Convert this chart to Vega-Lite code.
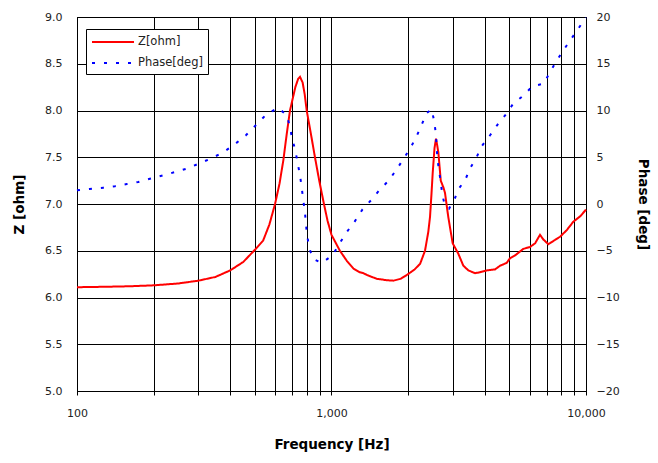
{
  "$schema": "https://vega.github.io/schema/vega-lite/v6.json",
  "width": 509,
  "height": 374,
  "autosize": {"type": "none"},
  "padding": {"left": 77, "top": 17, "right": 72, "bottom": 72},
  "background": "white",
  "data": {
    "values": [
      {"f": 100, "v": 6.11, "s": "Z[ohm]"},
      {"f": 130, "v": 6.115, "s": "Z[ohm]"},
      {"f": 160, "v": 6.12, "s": "Z[ohm]"},
      {"f": 200, "v": 6.13, "s": "Z[ohm]"},
      {"f": 250, "v": 6.15, "s": "Z[ohm]"},
      {"f": 300, "v": 6.18, "s": "Z[ohm]"},
      {"f": 350, "v": 6.22, "s": "Z[ohm]"},
      {"f": 400, "v": 6.29, "s": "Z[ohm]"},
      {"f": 450, "v": 6.38, "s": "Z[ohm]"},
      {"f": 500, "v": 6.51, "s": "Z[ohm]"},
      {"f": 539, "v": 6.61, "s": "Z[ohm]"},
      {"f": 570, "v": 6.78, "s": "Z[ohm]"},
      {"f": 600, "v": 7.0, "s": "Z[ohm]"},
      {"f": 625, "v": 7.22, "s": "Z[ohm]"},
      {"f": 647, "v": 7.47, "s": "Z[ohm]"},
      {"f": 667, "v": 7.75, "s": "Z[ohm]"},
      {"f": 687, "v": 8.0, "s": "Z[ohm]"},
      {"f": 721, "v": 8.25, "s": "Z[ohm]"},
      {"f": 740, "v": 8.34, "s": "Z[ohm]"},
      {"f": 752, "v": 8.36, "s": "Z[ohm]"},
      {"f": 770, "v": 8.3, "s": "Z[ohm]"},
      {"f": 785, "v": 8.17, "s": "Z[ohm]"},
      {"f": 799, "v": 8.0, "s": "Z[ohm]"},
      {"f": 830, "v": 7.75, "s": "Z[ohm]"},
      {"f": 861, "v": 7.5, "s": "Z[ohm]"},
      {"f": 895, "v": 7.25, "s": "Z[ohm]"},
      {"f": 934, "v": 7.0, "s": "Z[ohm]"},
      {"f": 965, "v": 6.82, "s": "Z[ohm]"},
      {"f": 1000, "v": 6.67, "s": "Z[ohm]"},
      {"f": 1079, "v": 6.5, "s": "Z[ohm]"},
      {"f": 1150, "v": 6.39, "s": "Z[ohm]"},
      {"f": 1219, "v": 6.31, "s": "Z[ohm]"},
      {"f": 1290, "v": 6.27, "s": "Z[ohm]"},
      {"f": 1335, "v": 6.26, "s": "Z[ohm]"},
      {"f": 1380, "v": 6.24, "s": "Z[ohm]"},
      {"f": 1506, "v": 6.2, "s": "Z[ohm]"},
      {"f": 1650, "v": 6.185, "s": "Z[ohm]"},
      {"f": 1750, "v": 6.18, "s": "Z[ohm]"},
      {"f": 1870, "v": 6.2, "s": "Z[ohm]"},
      {"f": 2000, "v": 6.25, "s": "Z[ohm]"},
      {"f": 2120, "v": 6.3, "s": "Z[ohm]"},
      {"f": 2229, "v": 6.36, "s": "Z[ohm]"},
      {"f": 2330, "v": 6.5, "s": "Z[ohm]"},
      {"f": 2400, "v": 6.7, "s": "Z[ohm]"},
      {"f": 2438, "v": 6.86, "s": "Z[ohm]"},
      {"f": 2470, "v": 7.1, "s": "Z[ohm]"},
      {"f": 2498, "v": 7.33, "s": "Z[ohm]"},
      {"f": 2540, "v": 7.6, "s": "Z[ohm]"},
      {"f": 2574, "v": 7.7, "s": "Z[ohm]"},
      {"f": 2605, "v": 7.62, "s": "Z[ohm]"},
      {"f": 2630, "v": 7.55, "s": "Z[ohm]"},
      {"f": 2687, "v": 7.25, "s": "Z[ohm]"},
      {"f": 2750, "v": 7.18, "s": "Z[ohm]"},
      {"f": 2792, "v": 7.12, "s": "Z[ohm]"},
      {"f": 2877, "v": 6.86, "s": "Z[ohm]"},
      {"f": 2993, "v": 6.58, "s": "Z[ohm]"},
      {"f": 3148, "v": 6.47, "s": "Z[ohm]"},
      {"f": 3296, "v": 6.34, "s": "Z[ohm]"},
      {"f": 3450, "v": 6.29, "s": "Z[ohm]"},
      {"f": 3664, "v": 6.26, "s": "Z[ohm]"},
      {"f": 3828, "v": 6.27, "s": "Z[ohm]"},
      {"f": 4074, "v": 6.29, "s": "Z[ohm]"},
      {"f": 4389, "v": 6.3, "s": "Z[ohm]"},
      {"f": 4596, "v": 6.34, "s": "Z[ohm]"},
      {"f": 4877, "v": 6.37, "s": "Z[ohm]"},
      {"f": 5028, "v": 6.42, "s": "Z[ohm]"},
      {"f": 5262, "v": 6.45, "s": "Z[ohm]"},
      {"f": 5673, "v": 6.52, "s": "Z[ohm]"},
      {"f": 6026, "v": 6.54, "s": "Z[ohm]"},
      {"f": 6310, "v": 6.58, "s": "Z[ohm]"},
      {"f": 6596, "v": 6.67, "s": "Z[ohm]"},
      {"f": 6800, "v": 6.62, "s": "Z[ohm]"},
      {"f": 7115, "v": 6.57, "s": "Z[ohm]"},
      {"f": 7500, "v": 6.61, "s": "Z[ohm]"},
      {"f": 7907, "v": 6.65, "s": "Z[ohm]"},
      {"f": 8400, "v": 6.72, "s": "Z[ohm]"},
      {"f": 8913, "v": 6.81, "s": "Z[ohm]"},
      {"f": 9500, "v": 6.87, "s": "Z[ohm]"},
      {"f": 10000, "v": 6.94, "s": "Z[ohm]"},
      {"f": 100, "v": 1.47, "s": "Phase[deg]"},
      {"f": 112, "v": 1.6, "s": "Phase[deg]"},
      {"f": 127, "v": 1.75, "s": "Phase[deg]"},
      {"f": 141, "v": 1.9, "s": "Phase[deg]"},
      {"f": 157, "v": 2.14, "s": "Phase[deg]"},
      {"f": 174, "v": 2.35, "s": "Phase[deg]"},
      {"f": 195, "v": 2.72, "s": "Phase[deg]"},
      {"f": 218, "v": 3.07, "s": "Phase[deg]"},
      {"f": 243, "v": 3.42, "s": "Phase[deg]"},
      {"f": 270, "v": 3.78, "s": "Phase[deg]"},
      {"f": 301, "v": 4.32, "s": "Phase[deg]"},
      {"f": 335, "v": 4.85, "s": "Phase[deg]"},
      {"f": 374, "v": 5.5, "s": "Phase[deg]"},
      {"f": 415, "v": 6.35, "s": "Phase[deg]"},
      {"f": 461, "v": 7.35, "s": "Phase[deg]"},
      {"f": 508, "v": 8.52, "s": "Phase[deg]"},
      {"f": 556, "v": 9.6, "s": "Phase[deg]"},
      {"f": 616, "v": 10.3, "s": "Phase[deg]"},
      {"f": 667, "v": 9.49, "s": "Phase[deg]"},
      {"f": 687, "v": 8.24, "s": "Phase[deg]"},
      {"f": 700, "v": 7.0, "s": "Phase[deg]"},
      {"f": 721, "v": 5.74, "s": "Phase[deg]"},
      {"f": 737, "v": 4.32, "s": "Phase[deg]"},
      {"f": 752, "v": 3.07, "s": "Phase[deg]"},
      {"f": 763, "v": 1.82, "s": "Phase[deg]"},
      {"f": 775, "v": 0.4, "s": "Phase[deg]"},
      {"f": 787, "v": -1.0, "s": "Phase[deg]"},
      {"f": 799, "v": -3.0, "s": "Phase[deg]"},
      {"f": 816, "v": -4.6, "s": "Phase[deg]"},
      {"f": 844, "v": -5.84, "s": "Phase[deg]"},
      {"f": 914, "v": -6.3, "s": "Phase[deg]"},
      {"f": 1009, "v": -5.5, "s": "Phase[deg]"},
      {"f": 1074, "v": -4.24, "s": "Phase[deg]"},
      {"f": 1148, "v": -3.0, "s": "Phase[deg]"},
      {"f": 1230, "v": -1.93, "s": "Phase[deg]"},
      {"f": 1322, "v": -0.6, "s": "Phase[deg]"},
      {"f": 1438, "v": 0.47, "s": "Phase[deg]"},
      {"f": 1541, "v": 1.47, "s": "Phase[deg]"},
      {"f": 1682, "v": 2.54, "s": "Phase[deg]"},
      {"f": 1803, "v": 3.71, "s": "Phase[deg]"},
      {"f": 1914, "v": 4.78, "s": "Phase[deg]"},
      {"f": 2047, "v": 6.03, "s": "Phase[deg]"},
      {"f": 2162, "v": 7.27, "s": "Phase[deg]"},
      {"f": 2262, "v": 8.49, "s": "Phase[deg]"},
      {"f": 2366, "v": 9.73, "s": "Phase[deg]"},
      {"f": 2476, "v": 10.13, "s": "Phase[deg]"},
      {"f": 2535, "v": 8.77, "s": "Phase[deg]"},
      {"f": 2570, "v": 7.53, "s": "Phase[deg]"},
      {"f": 2607, "v": 4.86, "s": "Phase[deg]"},
      {"f": 2645, "v": 3.6, "s": "Phase[deg]"},
      {"f": 2687, "v": 2.35, "s": "Phase[deg]"},
      {"f": 2724, "v": 1.04, "s": "Phase[deg]"},
      {"f": 2792, "v": -0.24, "s": "Phase[deg]"},
      {"f": 2897, "v": -0.49, "s": "Phase[deg]"},
      {"f": 3057, "v": 0.64, "s": "Phase[deg]"},
      {"f": 3148, "v": 1.57, "s": "Phase[deg]"},
      {"f": 3350, "v": 2.54, "s": "Phase[deg]"},
      {"f": 3500, "v": 3.79, "s": "Phase[deg]"},
      {"f": 3720, "v": 5.03, "s": "Phase[deg]"},
      {"f": 3890, "v": 6.17, "s": "Phase[deg]"},
      {"f": 4197, "v": 7.35, "s": "Phase[deg]"},
      {"f": 4500, "v": 8.52, "s": "Phase[deg]"},
      {"f": 4848, "v": 9.6, "s": "Phase[deg]"},
      {"f": 5180, "v": 10.74, "s": "Phase[deg]"},
      {"f": 5700, "v": 11.63, "s": "Phase[deg]"},
      {"f": 6150, "v": 12.59, "s": "Phase[deg]"},
      {"f": 6840, "v": 12.88, "s": "Phase[deg]"},
      {"f": 7180, "v": 14.0, "s": "Phase[deg]"},
      {"f": 7620, "v": 15.19, "s": "Phase[deg]"},
      {"f": 8150, "v": 16.44, "s": "Phase[deg]"},
      {"f": 8710, "v": 17.58, "s": "Phase[deg]"},
      {"f": 9330, "v": 18.76, "s": "Phase[deg]"},
      {"f": 10000, "v": 19.94, "s": "Phase[deg]"}
    ]
  },
  "encoding": {
    "x": {
      "field": "f",
      "type": "quantitative",
      "scale": {"type": "log", "domain": [100, 10000], "nice": false},
      "title": "Frequency [Hz]",
      "axis": {
        "values": [100, 200, 300, 400, 500, 600, 700, 800, 900, 1000, 2000, 3000, 4000, 5000, 6000, 7000, 8000, 9000, 10000],
        "labelExpr": "datum.value == 100 || datum.value == 1000 || datum.value == 10000 ? format(datum.value, ',') : ''",
        "labelFlush": false,
        "labelOverlap": false,
        "grid": true,
        "tickSize": 4,
        "labelPadding": 12,
        "titlePadding": 19
      }
    },
    "color": {
      "field": "s",
      "type": "nominal",
      "scale": {"domain": ["Z[ohm]", "Phase[deg]"], "range": ["#ff0000", "#0000ff"]},
      "legend": {
        "title": null,
        "orient": "none",
        "legendX": 9,
        "legendY": 12,
        "strokeColor": "black",
        "fillColor": "white",
        "padding": 5,
        "symbolType": "M-1,0H5",
        "symbolSize": 196,
        "symbolStrokeWidth": 2,
        "labelFontSize": 11.5,
        "labelOffset": 31,
        "rowPadding": 7
      }
    },
    "strokeDash": {
      "field": "s",
      "type": "nominal",
      "scale": {"domain": ["Z[ohm]", "Phase[deg]"], "range": [[1, 0], [3, 9]]},
      "legend": null
    }
  },
  "layer": [
    {
      "transform": [{"filter": "datum.s == 'Z[ohm]'"}],
      "mark": {"type": "line", "strokeWidth": 2, "interpolate": "linear"},
      "encoding": {
        "y": {
          "field": "v",
          "type": "quantitative",
          "scale": {"domain": [5, 9], "nice": false, "zero": false},
          "title": "Z [ohm]",
          "axis": {
            "values": [5, 5.5, 6, 6.5, 7, 7.5, 8, 8.5, 9],
            "format": ".1f",
            "grid": true,
            "ticks": false,
            "labelPadding": 15,
            "titlePadding": 18
          }
        }
      }
    },
    {
      "transform": [{"filter": "datum.s == 'Phase[deg]'"}],
      "mark": {"type": "line", "strokeWidth": 2, "interpolate": "linear"},
      "encoding": {
        "y": {
          "field": "v",
          "type": "quantitative",
          "scale": {"domain": [-20, 20], "nice": false, "zero": false},
          "title": "Phase [deg]",
          "axis": {
            "orient": "right",
            "values": [-20, -15, -10, -5, 0, 5, 10, 15, 20],
            "grid": false,
            "ticks": false,
            "labelPadding": 10,
            "titlePadding": 16
          }
        }
      }
    }
  ],
  "resolve": {"scale": {"y": "independent"}},
  "config": {
    "view": {"stroke": "black", "strokeWidth": 1},
    "font": "DejaVu Sans",
    "axis": {
      "labelFont": "DejaVu Sans",
      "labelFontSize": 11,
      "labelColor": "#222222",
      "titleFont": "DejaVu Sans",
      "titleFontSize": 13.5,
      "titleFontWeight": "bold",
      "titleColor": "black",
      "gridColor": "black",
      "gridOpacity": 1,
      "gridWidth": 1,
      "domainColor": "black",
      "tickColor": "black"
    },
    "legend": {"labelFont": "DejaVu Sans", "labelColor": "#222222"}
  }
}
